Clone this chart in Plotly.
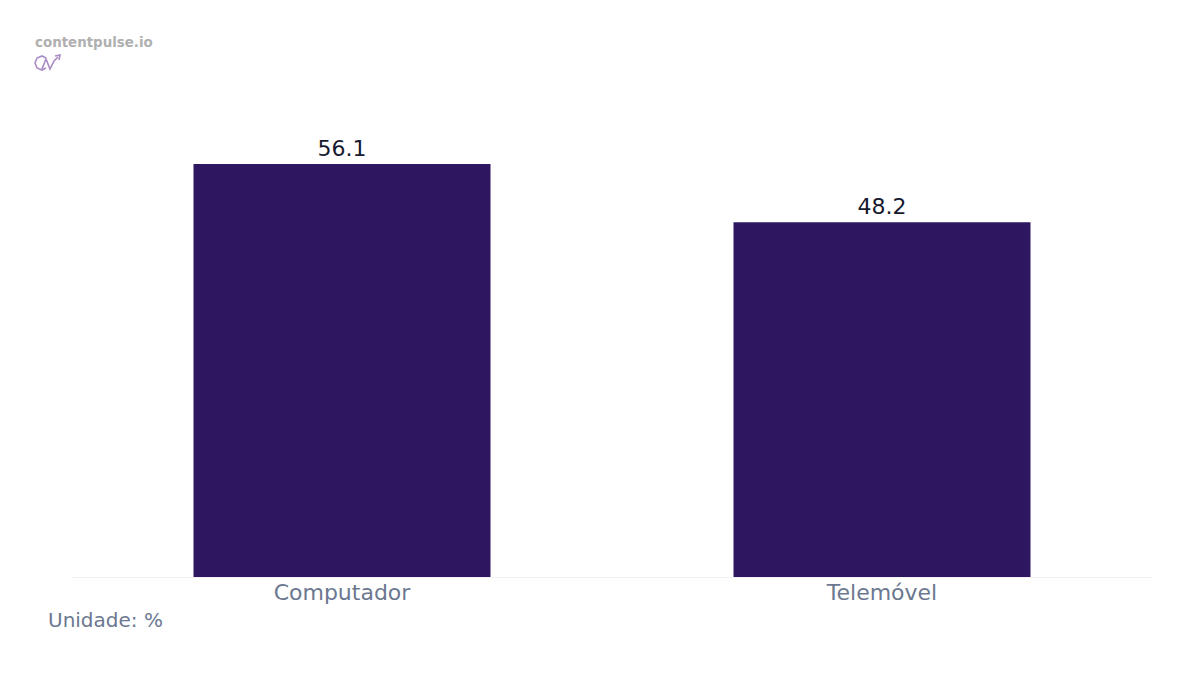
import plotly.graph_objects as go

categories = ["Computador", "Telemóvel"]
values = [56.1, 48.2]
value_labels = ["56.1", "48.2"]
unit_note = "Unidade: %"
brand = "contentpulse.io"

BAR = "#2e1760"
FONT = "DejaVu Sans, Verdana, sans-serif"

fig = go.Figure()
fig.add_trace(go.Bar(
    x=categories, y=values,
    text=value_labels, textposition="outside",
    textfont=dict(size=22, color="#161a2e", family=FONT),
    marker=dict(color=BAR, line=dict(width=0)),
    cliponaxis=False,
    hoverinfo="skip",
))

fig.update_layout(
    width=1200, height=675,
    margin=dict(l=64, r=56, t=92, b=106),
    paper_bgcolor="white", plot_bgcolor="white",
    bargap=0.45,
    showlegend=False,
    font=dict(family=FONT),
)
fig.update_xaxes(
    showgrid=False, showline=True, linecolor="#f2f2f4", linewidth=1,
    ticks="", ticklabelstandoff=-4,
    tickfont=dict(size=22, color="#6b7890", family=FONT),
)
fig.update_yaxes(
    range=[0, 64.8], visible=False, showgrid=False, zeroline=False,
)

fig.add_annotation(
    text=unit_note, xref="paper", yref="paper", x=-0.024, y=-0.0895,
    xanchor="left", yanchor="middle", showarrow=False,
    font=dict(size=20, color="#6b7890", family=FONT),
)
fig.add_annotation(
    text="<b>" + brand + "</b>", xref="paper", yref="paper",
    x=-0.036, y=1.120, xanchor="left", yanchor="middle", showarrow=False,
    font=dict(size=13.4, color="#b0b0b0", family=FONT),
)

# small outline logo under the brand text (screen px -> paper)
def px(xp, yp):
    return (xp - 72) / 1080, (577 - yp) / 477

c = "#a98cc4"
c_arc = [(46, 58), (42, 56), (37, 58), (35, 63), (37, 68), (42, 70), (46, 68)]
fig.add_shape(type="path", xref="paper", yref="paper",
              path="M " + " L ".join("%f,%f" % px(a, b) for a, b in c_arc),
              line=dict(color=c, width=1.6))
pts = [(42, 69), (46, 59), (50, 69), (54, 61), (58, 57)]
fig.add_shape(type="path", xref="paper", yref="paper",
              path="M " + " L ".join("%f,%f" % px(a, b) for a, b in pts),
              line=dict(color=c, width=1.6))
fig.add_shape(type="path", xref="paper", yref="paper",
              path="M %f,%f L %f,%f L %f,%f" % (*px(55, 56), *px(60, 55), *px(59, 60)),
              line=dict(color=c, width=1.6))

fig.write_html("out.html")
